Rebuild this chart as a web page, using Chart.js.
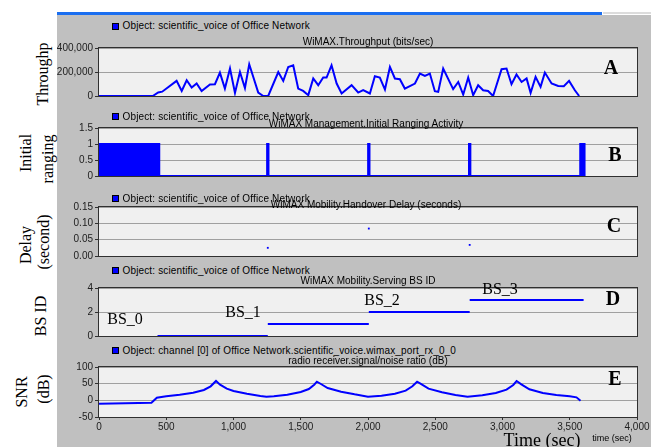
<!DOCTYPE html>
<html>
<head>
<meta charset="utf-8">
<script src="https://cdn.jsdelivr.net/npm/chart.js@4.4.0/dist/chart.umd.min.js"></script>
<style>
  html, body { margin: 0; padding: 0; background: #ffffff; }
  #root { position: relative; width: 651px; height: 447px; overflow: hidden; background: #ffffff; }
  canvas { position: absolute; }
  .t { position: absolute; white-space: nowrap; line-height: 1; }
  .sans { font-family: "Liberation Sans", Arial, sans-serif; font-size: 10px; color: #000; }
  .serif { font-family: "Liberation Serif", "Times New Roman", serif; color: #000; }
</style>
</head>
<body>
<div id="root">
  <div style="position:absolute;left:57px;top:15px;width:594px;height:432px;background:#c0c0c0;"></div>
  <div style="position:absolute;left:57px;top:12px;width:545px;height:3px;background:#1a6ef0;"></div>
  <div style="position:absolute;left:603px;top:12px;width:48px;height:2px;background:#dcdcdc;"></div>
</div>
<script>
// ---------------- DATA ----------------
// Panel A: WiMAX throughput (bits/sec)
const tpTime  = [0, 400, 440, 470, 577, 615, 652, 689, 726, 763, 825, 862, 899, 936, 974, 1011, 1048, 1085, 1117, 1184, 1221, 1258,
                 1333, 1370, 1407, 1444, 1481, 1518, 1556, 1593, 1630, 1667, 1692, 1729, 1767, 1804, 1878, 1927, 1964, 2014,
                 2051, 2088, 2126, 2163, 2200, 2237, 2274, 2349, 2386, 2423, 2460, 2497, 2522, 2559, 2633, 2671, 2708, 2745,
                 2782, 2819, 2856, 2893, 2930, 2993, 3030, 3067, 3104, 3142, 3179, 3209, 3246, 3283, 3315, 3365, 3414, 3456,
                 3495, 3538, 3570];
const tpValue = [0, 0, 30000, 36000, 126000, 42000, 131000, 71000, 104000, 42000, 96000, 98000, 195000, 62000, 229000, 26000, 200000, 67000, 264000, 29000, 0, 0,
                 200000, 126000, 242000, 256000, 62000, 42000, 7000, 146000, 90000, 154000, 154000, 256000, 104000, 21000, 90000, 29000, 50000, 21000,
                 165000, 154000, 54000, 242000, 146000, 140000, 62000, 104000, 187000, 167000, 187000, 40000, 34000, 229000, 57000, 117000, 12000, 154000,
                 7000, 90000, 48000, 42000, 0, 223000, 229000, 98000, 179000, 117000, 146000, 26000, 159000, 76000, 195000, 104000, 84000, 81000,
                 126000, 48000, 0];

// Panel B: Initial ranging activity (vertices of the activity trace)
const rangingTime  = [0, 448, 448, 1250, 1250, 1260, 1260, 2001, 2001, 2011, 2011, 2751, 2751, 2761, 2761, 3578, 3578, 3610, 3610];
const rangingValue = [1, 1, 0, 0, 1, 1, 0, 0, 1, 1, 0, 0, 1, 1, 0, 0, 1, 1, 0];

// Panel C: Handover delay (seconds)
const handoverTime  = [1255, 2006, 2756];
const handoverDelay = [0.025, 0.084, 0.034];

// Panel D: Serving BS ID
const bsStart = [435, 1255, 2006, 2756];
const bsEnd   = [1255, 2006, 2756, 3603];
const bsValue = [0, 1, 2, 3];
const bsNames = ["BS_0", "BS_1", "BS_2", "BS_3"];

// Panel E: SNR (dB)
const snrTime  = [0, 390, 430, 500, 600, 700, 780, 830, 870, 900, 950, 1000, 1100, 1200, 1245, 1300, 1400, 1500, 1560, 1600, 1620, 1650,
                  1700, 1800, 1900, 2000, 2100, 2200, 2280, 2330, 2365, 2390, 2450, 2550, 2650, 2740, 2850, 2950, 3030, 3080, 3105,
                  3140, 3200, 3300, 3400, 3500, 3550, 3580];
const snrValue = [-10, -7, 8, 12, 17, 23, 31, 42, 58, 47, 35, 28, 20, 13, 11, 12, 17, 25, 34, 47, 56, 49,
                  37, 26, 18, 11, 14, 20, 29, 42, 56, 50, 35, 24, 16, 11, 15, 22, 32, 46, 58,
                  48, 33, 22, 16, 12, 9, -1];

// Tick settings
const xMin = 0, xMax = 4000, xStep = 500;
const yA = { min: 0, max: 400000, step: 200000 };
const yB = { min: 0, max: 1.5, step: 0.5 };
const yC = { min: 0, max: 0.15, step: 0.05 };
const yD = { min: 0, max: 4, step: 2 };
const yE = { min: -50, max: 100, step: 50 };

// ---------------- HELPERS ----------------
const root = document.getElementById('root');
const BLUE = '#0000ff';
const TICKFONT = { family: "'Liberation Sans', Arial, sans-serif", size: 10 };

function text(str, cx, cy, cls, style, rotate) {
  const d = document.createElement('div');
  d.className = 't ' + cls;
  d.textContent = str;
  d.style.left = cx + 'px';
  d.style.top = cy + 'px';
  d.style.transform = 'translate(-50%,-50%)' + (rotate ? ' rotate(-90deg)' : '');
  if (style) Object.assign(d.style, style);
  root.appendChild(d);
  return d;
}
function leftText(str, x, cy, cls, style) {
  const d = document.createElement('div');
  d.className = 't ' + cls;
  d.textContent = str;
  d.style.left = x + 'px';
  d.style.top = cy + 'px';
  d.style.transform = 'translateY(-50%)';
  if (style) Object.assign(d.style, style);
  root.appendChild(d);
}
function legend(str, cy) {
  const s = document.createElement('div');
  Object.assign(s.style, { position: 'absolute', left: '112px', top: (cy - 3.5) + 'px', width: '5px', height: '5px',
    background: BLUE, border: '1px solid #000' });
  root.appendChild(s);
  leftText(str, 122.5, cy, 'sans', { letterSpacing: '0.15px' });
}

const framePlugin = {
  id: 'frame',
  beforeDraw(chart) {
    const a = chart.chartArea, c = chart.ctx;
    c.save(); c.fillStyle = '#f0f0f0'; c.fillRect(a.left, a.top, a.right - a.left, a.bottom - a.top); c.restore();
  },
  afterDraw(chart) {
    const a = chart.chartArea, c = chart.ctx;
    c.save(); c.strokeStyle = '#303030'; c.lineWidth = 1;
    c.strokeRect(Math.round(a.left) - 0.5, Math.round(a.top) - 0.5, Math.round(a.right - a.left) + 1, Math.round(a.bottom - a.top) + 1);
    c.restore();
  }
};

function makeChart(top, plotH, datasets, yCfg, fmt, showX) {
  const cv = document.createElement('canvas');
  const h = 8 + plotH + (showX ? 24 : 8);
  cv.width = 594; cv.height = h;
  cv.style.left = '57px'; cv.style.top = (top - 8) + 'px';
  cv.style.width = '594px'; cv.style.height = h + 'px';
  root.appendChild(cv);
  const xScale = {
    type: 'linear', min: xMin, max: xMax, display: showX,
    ticks: { stepSize: xStep, font: TICKFONT, color: '#202020', padding: 1, maxRotation: 0,
             callback: v => v.toLocaleString('en-US') },
    grid: { drawOnChartArea: false, tickLength: 3, tickColor: '#303030' },
    border: { display: false }
  };
  if (showX) xScale.afterFit = s => { s.height = 24; };
  new Chart(cv, {
    type: 'line',
    data: { datasets },
    plugins: [framePlugin],
    options: {
      responsive: false, animation: false, devicePixelRatio: 1,
      layout: { padding: { top: 8, right: 14, bottom: showX ? 0 : 8, left: 0 } },
      plugins: { legend: { display: false }, tooltip: { enabled: false } },
      scales: {
        x: xScale,
        y: {
          min: yCfg.min, max: yCfg.max,
          ticks: { stepSize: yCfg.step, font: TICKFONT, color: '#202020', padding: 2, callback: fmt },
          grid: { color: '#a0a0a0', tickLength: 4, tickColor: '#303030' },
          border: { display: false },
          afterFit: s => { s.width = 42; }
        }
      }
    }
  });
}

const pts = (xs, ys) => xs.map((x, i) => ({ x, y: ys[i] }));
const lineDs = (data, extra) => Object.assign({ data, borderColor: BLUE, borderWidth: 2, pointRadius: 0, tension: 0, fill: false }, extra || {});

// ---------------- PANEL A ----------------
makeChart(48, 48, [lineDs(pts(tpTime, tpValue))], yA, v => v.toLocaleString('en-US'), false);
// ---------------- PANEL B ----------------
makeChart(128, 48, [lineDs(pts(rangingTime, rangingValue), { fill: 'origin', backgroundColor: BLUE, borderJoinStyle: 'miter' })], yB,
  v => String(v), false);
// ---------------- PANEL C ----------------
makeChart(207, 49, [{ data: pts(handoverTime, handoverDelay), showLine: false, pointStyle: 'rect', pointRadius: 1.3,
  backgroundColor: BLUE, borderColor: BLUE, borderWidth: 0 }], yC, v => v.toFixed(2), false);
// ---------------- PANEL D ----------------
const bsData = [];
bsStart.forEach((s, i) => { bsData.push({ x: s, y: bsValue[i] }, { x: bsEnd[i], y: bsValue[i] }, { x: bsEnd[i], y: null }); });
makeChart(288, 48, [lineDs(bsData, { spanGaps: false })], yD, v => String(v), false);
// ---------------- PANEL E ----------------
makeChart(367, 50, [lineDs(pts(snrTime, snrValue))], yE, v => String(v), true);

// ---------------- TEXT ----------------
legend('Object: scientific_voice of Office Network', 26);
text('WiMAX.Throughput (bits/sec)', 368, 42, 'sans');
legend('Object: scientific_voice of Office Network', 116.5);
text('WiMAX Management.Initial Ranging Activity', 366, 124, 'sans');
legend('Object: scientific_voice of Office Network', 198.5);
text('WiMAX Mobility.Handover Delay (seconds)', 366, 205, 'sans');
legend('Object: scientific_voice of Office Network', 270.5);
text('WiMAX Mobility.Serving BS ID', 368, 281, 'sans');
legend('Object: channel [0] of Office Network.scientific_voice.wimax_port_rx_0_0', 350.5);
text('radio receiver.signal/noise ratio (dB)', 368, 361, 'sans');

const big = { fontSize: '16px' };
text('Throughp', 43, 74, 'serif', big, true);
text('Initial', 26, 153, 'serif', big, true);
text('ranging', 48, 159, 'serif', big, true);
text('Delay', 26, 245, 'serif', big, true);
text('(second)', 44, 242, 'serif', big, true);
text('BS ID', 41, 316, 'serif', big, true);
text('SNR', 22, 392, 'serif', big, true);
text('(dB)', 44, 389, 'serif', big, true);

const bold = { fontSize: '20px', fontWeight: 'bold' };
text('A', 611, 67, 'serif', bold);
text('B', 615, 154, 'serif', bold);
text('C', 614, 225, 'serif', bold);
text('D', 613, 298, 'serif', bold);
text('E', 615, 378, 'serif', bold);

const bsPos = [[125, 319], [243, 312], [382, 300], [500, 289]];
bsNames.forEach((n, i) => text(n, bsPos[i][0], bsPos[i][1], 'serif', big));

text('Time (sec)', 542, 440, 'serif', { fontSize: '18px' });
text('time (sec)', 612, 438, 'sans', { fontSize: '9px' });
</script>
</body>
</html>
